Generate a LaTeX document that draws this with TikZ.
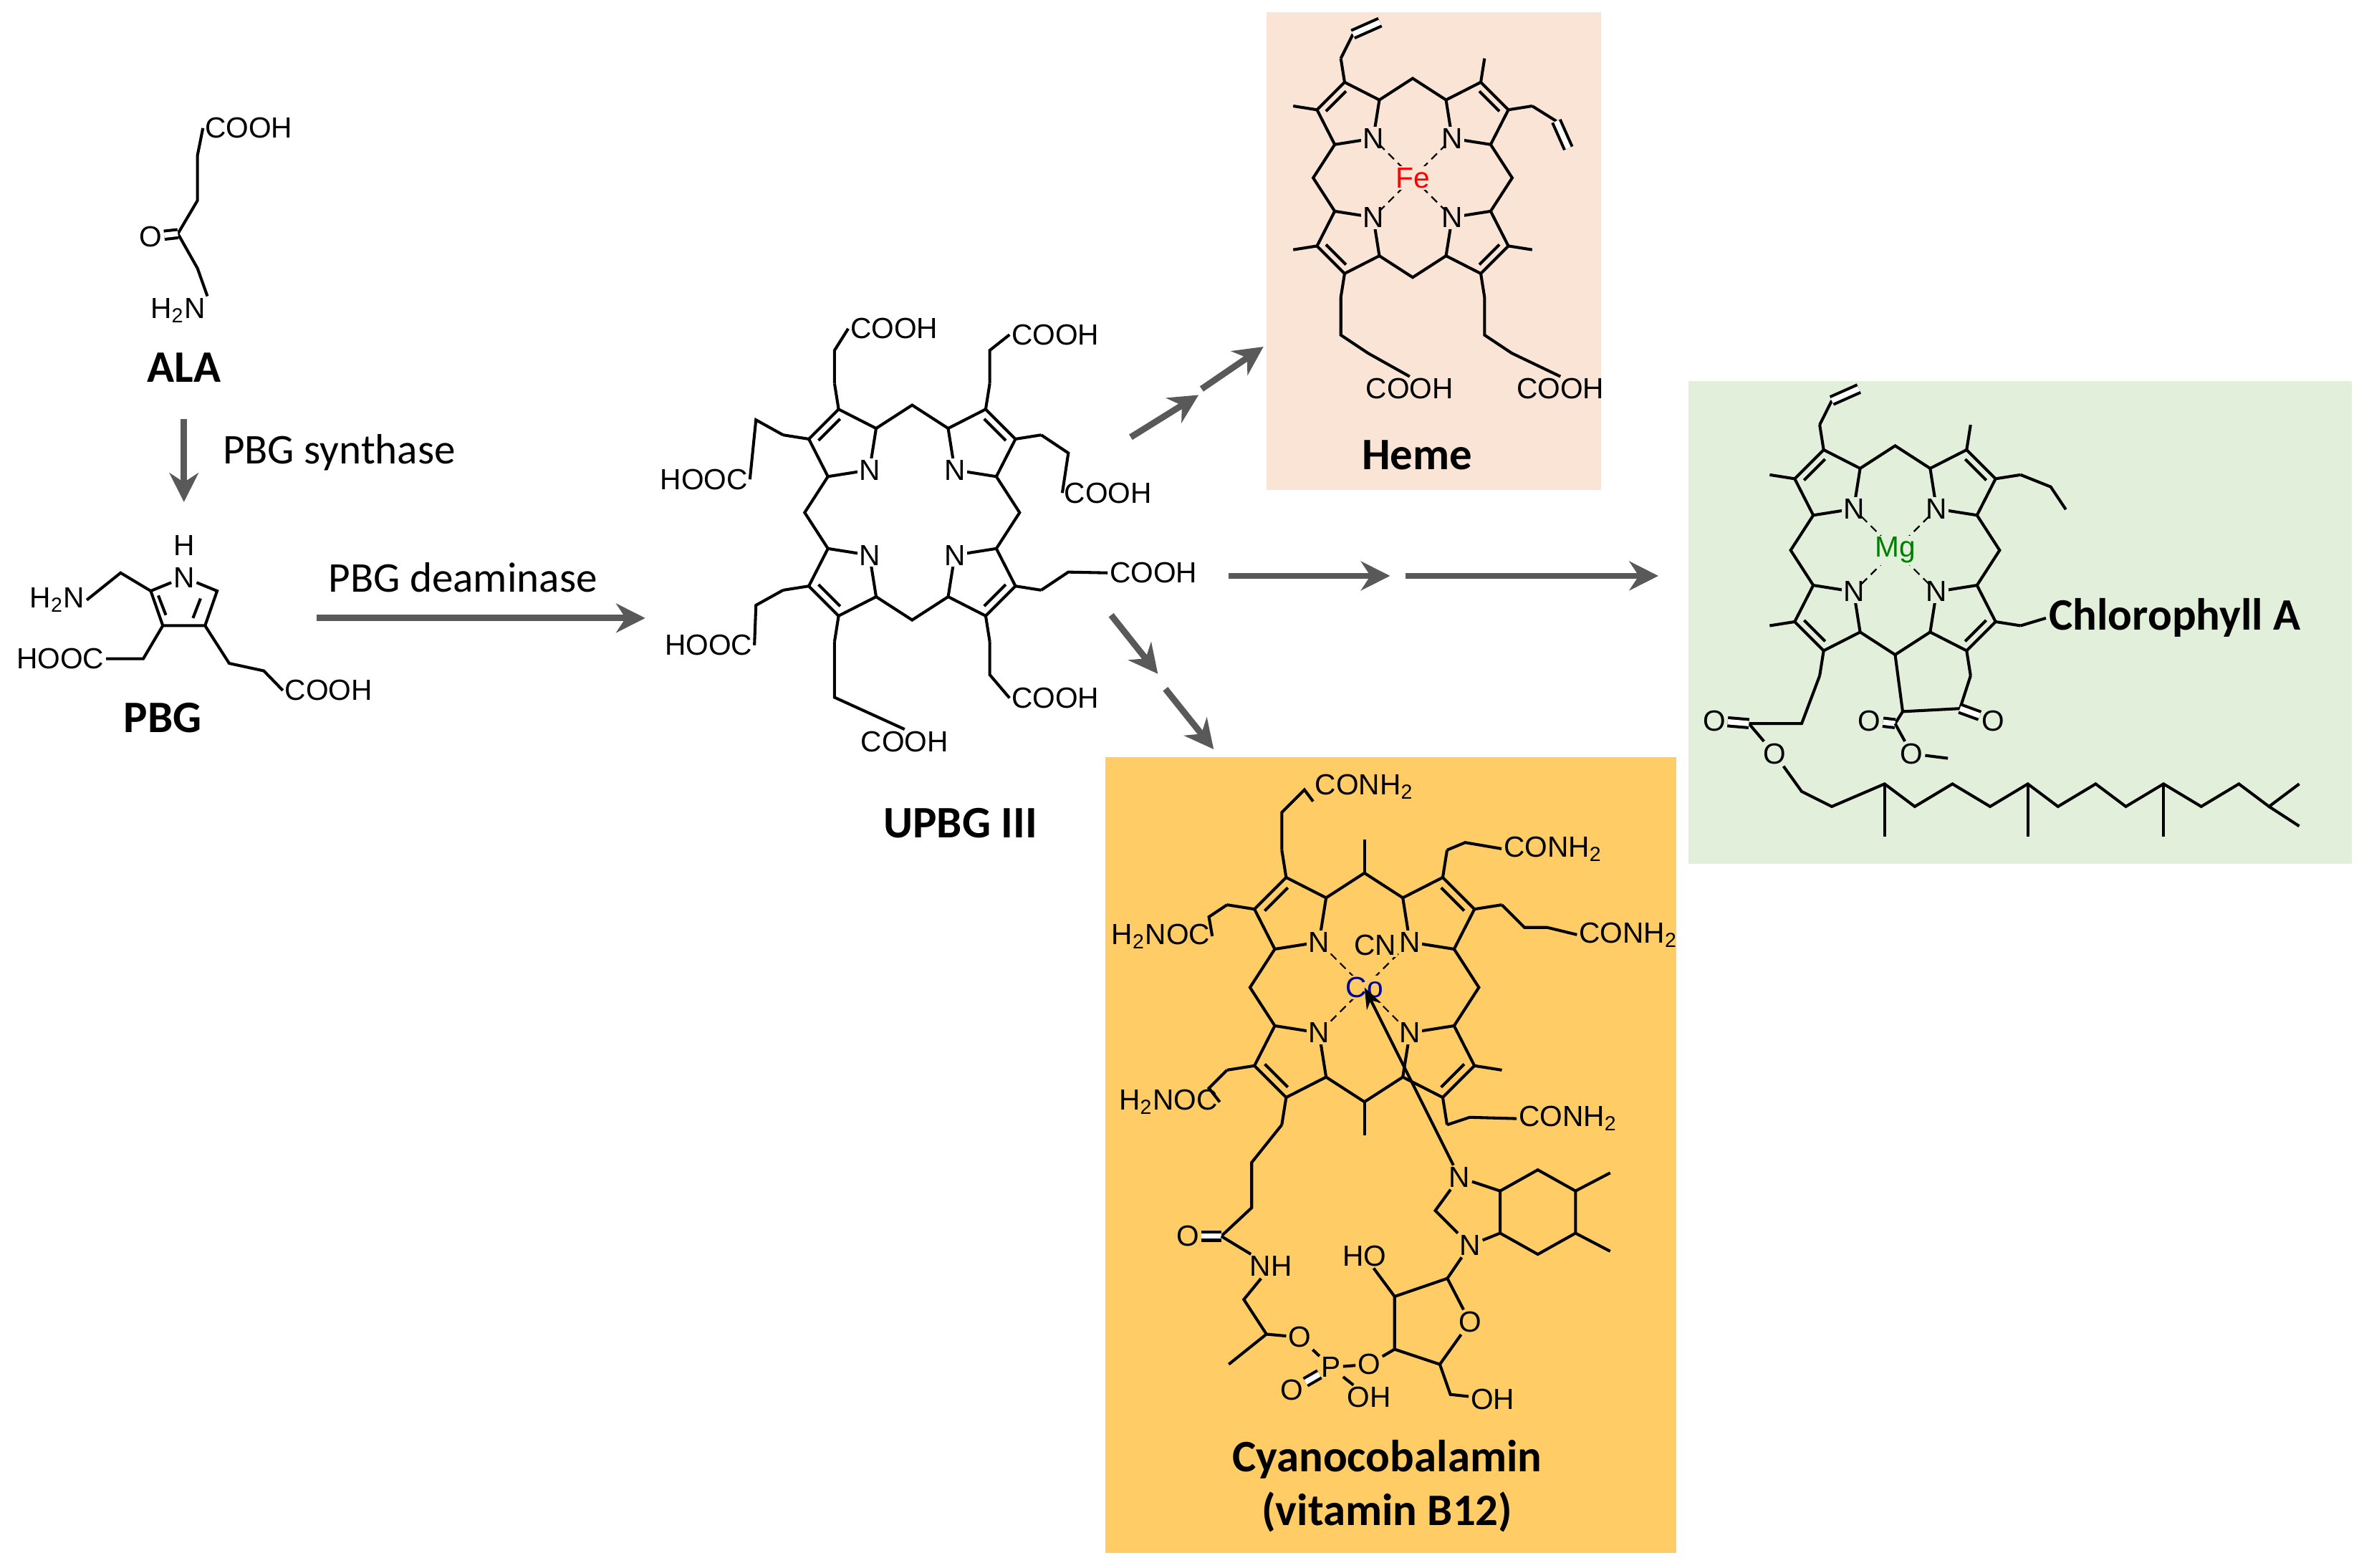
\documentclass[tikz,border=0pt]{standalone}
\usepackage{fontspec}
\setmainfont{Carlito}
\newfontfamily\chem{Liberation Sans}
\usetikzlibrary{calc,arrows.meta}
\definecolor{hemebg}{RGB}{250,228,214}
\definecolor{chlbg}{RGB}{226,239,218}
\definecolor{bbg}{RGB}{255,204,102}
\definecolor{arr}{RGB}{89,89,89}
\newcommand\two{\textsubscript{2}}
\tikzset{bond/.style={line width=1.1pt,black},
 lab/.style={font=\chem\fontsize{11}{11}\selectfont,inner sep=0.6pt},
 title/.style={font=\bfseries\fontsize{17}{17}\selectfont,inner sep=1pt},
 stepl/.style={font=\fontsize{16}{16}\selectfont},
 rx/.style={arr,line width=2.4pt,-{Stealth[length=11pt,width=11pt]}}}
\newcommand\porph[5]{%
\begin{scope}[shift={(#1,#2)},scale=#3]
\foreach \t in {45,135,225,315}{
 \draw[bond,shift={(\t:59)}] ({\t+180}:22) -- ({\t+252}:22) -- ({\t+324}:22) -- ({\t+36}:22) -- ({\t+108}:22) -- cycle;
 \draw[bond,shift={(\t:59)}] ({\t+324}:22) -- ({\t+324}:38) coordinate (#5a\t);
 \draw[bond,shift={(\t:59)}] ({\t+36}:22) -- ({\t+36}:38) coordinate (#5b\t);
 \draw[bond,shift={(\t:59)}] ({\t+324}:16) -- ({\t+36}:16);
 \pgfmathsetmacro\ax{59*cos(\t)+22*cos(\t+108)}
 \pgfmathsetmacro\ay{59*sin(\t)+22*sin(\t+108)}
 \pgfmathsetmacro\bx{59*cos(\t+90)+22*cos(\t+342)}
 \pgfmathsetmacro\by{59*sin(\t+90)+22*sin(\t+342)}
 \draw[bond] (\ax,\ay) -- ({\t+45}:66) coordinate (#5m\t) -- (\bx,\by);
 \node[lab,fill=#4] at (\t:37) {N};
}
\end{scope}}
\newcommand\metal[6]{%
\begin{scope}[shift={(#1,#2)},scale=#3]
\foreach \t in {45,135,225,315} \draw[densely dashed,line width=0.6pt] (0,0) -- (\t:30);
\node[lab,fill=#4,text=#6] at (0,0) {#5};
\end{scope}}
\begin{document}
\begin{tikzpicture}[x=0.02cm,y=-0.02cm]
\useasboundingbox (0,0) rectangle (1568,1040);
\fill[hemebg] (840,8) rectangle (1062,325);
\fill[chlbg] (1120,253) rectangle (1560,573);
\fill[bbg] (733,502) rectangle (1112,1030);

% ALA
\node[lab] (ala1) at (165,85) {COOH};
\node[lab] (alao) at (100,157) {O};
\node[lab] (alan) at (118,206) {H\two N};
\draw[bond] (ala1.west) -- (131,103) -- (131,133) -- (118,155) -- (131,178) -- (alan.north east);
\draw[bond,double,double distance=2pt] (118,155) -- (alao);
\node[title] (ALA) at (122,244) {ALA};

% PBG
\node[lab] (pn) at (122,383) {N};
\node[lab] (ph) at (122,362) {H};
\draw[bond] (pn) -- (144,392) -- (136,415) -- (108,415) -- (100,392) -- (pn);
\draw[bond] (133,397) -- (128,410);
\draw[bond] (110,408) -- (105,395);
\node[lab] (ph2n) at (38,398) {H\two N};
\node[lab] (phooc) at (40,437) {HOOC};
\node[lab] (pcooh) at (218,458) {COOH};
\draw[bond] (100,392) -- (80,380) -- (ph2n.east);
\draw[bond] (108,415) -- (95,437) -- (phooc.east);
\draw[bond] (136,415) -- (152,440) -- (175,445) -- (pcooh.west);
\node[title] (PBG) at (108,476) {PBG};

\draw[rx] (122,278) -- (122,333);
\node[stepl] at (225,300) {PBG synthase};
\draw[rx] (210,410) -- (428,410);
\node[stepl] at (307,383) {PBG deaminase};

% UPBG III
\porph{605}{340}{1.08}{white}{u}
\node[lab] (u1) at (593,218) {COOH};
\node[lab] (u2) at (700,222) {COOH};
\node[lab] (u3) at (735,327) {COOH};
\node[lab] (u4) at (765,380) {COOH};
\node[lab] (u5) at (700,463) {COOH};
\node[lab] (u6) at (600,492) {COOH};
\node[lab] (u7) at (467,318) {HOOC};
\node[lab] (u8) at (470,428) {HOOC};
\draw[bond] (ub225) -- ++(0,-22) -- (u1.west);
\draw[bond] (ua315) -- ++(0,-22) -- (u2.west);
\draw[bond] (ub315) -- ++(18,12) -- (u3.west);
\draw[bond] (ua45) -- ++(18,-12) -- (u4.west);
\draw[bond] (ub45) -- ++(0,22) -- (u5.west);
\draw[bond] (ua135) -- ++(0,22) -- ++(0,15) -- (u6.north);
\draw[bond] (ua225) -- ++(-18,-10) -- (u7.east);
\draw[bond] (ub135) -- ++(-18,10) -- (u8.east);
\node[title] (UPBG) at (637,546) {UPBG III};

% Heme
\porph{937}{118}{1}{hemebg}{h}
\metal{937}{118}{1}{hemebg}{Fe}{red}
\draw[bond] (hb225) -- ++(8,-16) coordinate (hv1);
\draw[bond,double,double distance=2pt] (hv1) -- ++(18,-8);
\draw[bond] (hb315) -- ++(16,10) coordinate (hv2);
\draw[bond,double,double distance=2pt] (hv2) -- ++(8,18);
\node[lab] (hc1) at (935,258) {COOH};
\node[lab] (hc2) at (1035,258) {COOH};
\draw[bond] (ha135) -- ++(0,25) -- ++(18,12) -- (hc1.north);
\draw[bond] (hb45) -- ++(0,25) -- ++(18,12) -- (hc2.north);
\node[title] (Heme) at (940,302) {Heme};

% Chlorophyll A
\porph{1257}{365}{1.05}{chlbg}{c}
\metal{1257}{365}{1.05}{chlbg}{Mg}{green!50!black}
\draw[bond] (cb225) -- ++(8,-16) coordinate (cv1);
\draw[bond,double,double distance=2pt] (cv1) -- ++(18,-8);
\draw[bond] (cb315) -- ++(20,8) -- ++(10,15);
\node[title,anchor=west] (chl) at (1357,410) {Chlorophyll A};
\draw[bond] (ca45) -- (chl.west);
\draw[bond] (cm45) -- (1262,472) coordinate (cp1) -- (1300,470) coordinate (cp2) -- (cb45);
\node[lab] (co1) at (1322,478) {O};
\draw[bond,double,double distance=2pt] (cp2) -- (co1);
\node[lab] (co2) at (1240,478) {O};
\node[lab] (co3) at (1268,500) {O};
\draw[bond] (cp1) -- (1257,480);
\draw[bond,double,double distance=2pt] (1257,480) -- (co2);
\draw[bond] (1257,480) -- (co3) -- (1292,503);
\node[lab] (ce1) at (1137,478) {O};
\node[lab] (ce2) at (1177,500) {O};
\draw[bond] (ca135) -- (1195,480) -- (1160,480) -- (ce2);
\draw[bond,double,double distance=2pt] (1160,480) -- (ce1);
\draw[bond] (ce2) -- (1195,525) -- (1215,535) -- (1250,520) -- (1270,535) -- (1295,520) -- (1320,535) -- (1345,520) -- (1365,535) -- (1390,520) -- (1410,535) -- (1435,520) -- (1460,535) -- (1485,520) -- (1505,535) -- (1525,520);
\draw[bond] (1250,520) -- (1250,555);
\draw[bond] (1345,520) -- (1345,555);
\draw[bond] (1435,520) -- (1435,555);
\draw[bond] (1505,535) -- (1525,548);

% B12
\porph{905}{655}{1.15}{bbg}{b}
\metal{905}{655}{1.15}{bbg}{Co}{blue!60!black}
\node[lab,fill=bbg] (cn) at (912,627) {CN};
\node[lab] (b1) at (905,522) {CONH\two};
\node[lab] (b2) at (1030,563) {CONH\two};
\node[lab] (b3) at (1080,620) {CONH\two};
\node[lab] (b4) at (1040,742) {CONH\two};
\node[lab] (b5) at (770,621) {H\two NOC};
\node[lab] (b6) at (775,731) {H\two NOC};
\draw[bond] (bb225) -- ++(0,-25) -- ++(15,-15) -- (b1.south west);
\draw[bond] (ba315) -- ++(12,-5) -- (b2.west);
\draw[bond] (bb315) -- ++(15,15) -- ++(15,0) -- (b3.west);
\draw[bond] (bb45) -- ++(15,-5) -- (b4.west);
\draw[bond] (ba225) -- ++(-12,8) -- (b5.east);
\draw[bond] (bb135) -- ++(-12,12) -- (b6.east);
\draw[bond] (bm225) -- ++(0,-22);
\draw[bond] (bm45) -- ++(0,22);
\node[lab] (bo) at (788,820) {O};
\node[lab] (bnh) at (843,840) {NH};
\draw[bond] (ba135) -- ++(-20,25) -- ++(0,30) -- (810,820) coordinate (am);
\draw[bond,double,double distance=2pt] (am) -- (bo);
\draw[bond] (am) -- (bnh);
\node[lab] (bo2) at (862,887) {O};
\node[lab] (bp) at (883,907) {P};
\node[lab] (bo3) at (857,922) {O};
\node[lab] (boh1) at (908,927) {OH};
\node[lab] (bo4) at (908,905) {O};
\draw[bond] (bnh) -- (825,862) -- (840,885) -- (bo2) -- (bp);
\draw[bond] (840,885) -- (815,905);
\draw[bond,double,double distance=2pt] (bp) -- (bo3);
\draw[bond] (bp) -- (boh1);
\draw[bond] (bp) -- (bo4) -- (925,895);
\node[lab,fill=bbg] (bn1) at (968,781) {N};
\node[lab,fill=bbg] (bn2) at (975,826) {N};
\draw[bond] (995,790) -- (1020,776) -- (1045,790) -- (1045,818) -- (1020,832) -- (995,818) -- cycle;
\draw[bond] (995,790) -- (bn1) -- (952,803) -- (bn2) -- (995,818);
\draw[bond] (1045,790) -- (1068,778);
\draw[bond] (1045,818) -- (1068,830);
\draw[bond,-{Stealth[length=8pt]}] (bn1) -- (905,655);
\node[lab] (bro) at (975,877) {O};
\node[lab] (bho) at (905,833) {HO};
\node[lab] (boh2) at (990,928) {OH};
\draw[bond] (bn2) -- (960,848) -- (bro) -- (955,905) -- (925,895) -- (925,860) -- (960,848);
\draw[bond] (925,860) -- (bho);
\draw[bond] (955,905) -- (962,925) -- (boh2);
\node[title] (cya) at (920,968) {Cyanocobalamin};
\node[title] (vit) at (920,1003) {(vitamin B12)};

% arrows
\draw[rx] (750,290) -- (795,262);
\draw[rx] (797,258) -- (838,230);
\draw[rx] (815,382) -- (922,382);
\draw[rx] (932,382) -- (1100,382);
\draw[rx] (737,408) -- (768,447);
\draw[rx] (773,457) -- (805,497);
\end{tikzpicture}
\end{document}
